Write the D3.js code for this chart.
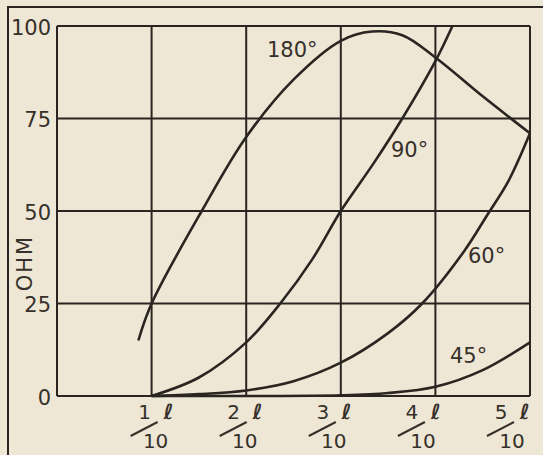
<!DOCTYPE html>
<html>
<head>
<meta charset="utf-8">
<script src="https://cdn.jsdelivr.net/npm/d3@7"></script>
<style>
  html, body { margin: 0; padding: 0; background: #eee7d5; }
  svg { display: block; }
</style>
</head>
<body>
<div class="chart"></div>
<script>
// Impedance (ohm) versus length (fraction of l), one curve per angle
var yTicks = [0, 25, 50, 75, 100];
var xTicks = [0.1, 0.2, 0.3, 0.4, 0.5];
var xTickNum = ["1", "2", "3", "4", "5"];

var curve180 = [[0.086, 15], [0.1, 25], [0.153, 50], [0.2, 70], [0.25, 85.5], [0.3, 96], [0.333, 98.5], [0.365, 97.5], [0.4, 91.5], [0.45, 81], [0.5, 71]];
var curve90 = [[0.1, 0], [0.15, 5], [0.2, 14.5], [0.236, 25], [0.27, 37], [0.3, 50], [0.335, 63], [0.365, 75], [0.4, 90.5], [0.418, 100]];
var curve60 = [[0.1, 0], [0.15, 0.5], [0.2, 1.5], [0.25, 4], [0.3, 9], [0.35, 17], [0.386, 25], [0.43, 39], [0.455, 49], [0.477, 58], [0.5, 71]];
var curve45 = [[0.1, 0], [0.2, 0], [0.3, 0.2], [0.35, 0.8], [0.4, 2.5], [0.45, 7], [0.5, 14.5]];

var curveNames = ["180°", "90°", "60°", "45°"];
var curveData = [curve180, curve90, curve60, curve45];

var width = 543, height = 455;
var ink = "#2b2521";
var svg = d3.select(".chart").append("svg").attr("width", width).attr("height", height)
	.style("font-family", "'DejaVu Sans', sans-serif");

svg.append("rect").attr("width", width).attr("height", height).attr("fill", "#eee7d5");

// outer frame (only top and left fall inside the picture)
svg.append("path").attr("d", "M8 " + height + " L8 7 L" + width + " 7")
	.attr("fill", "none").attr("stroke", ink).attr("stroke-width", 2);

var x = d3.scaleLinear().domain([0, 0.5]).range([57, 530]);
var y = d3.scaleLinear().domain([0, 100]).range([396, 26]);

// grid
var grid = svg.append("g").attr("class", "grid");
grid.selectAll("line.v").data(xTicks).enter().append("line")
	.attr("class", "v")
	.attr("x1", function(d){ return x(d) }).attr("x2", function(d){ return x(d) })
	.attr("y1", y(0)).attr("y2", y(100))
	.attr("stroke", ink).attr("stroke-width", 2);
grid.selectAll("line.h").data(yTicks).enter().append("line")
	.attr("class", "h")
	.attr("x1", x(0)).attr("x2", x(0.5))
	.attr("y1", function(d){ return y(d) }).attr("y2", function(d){ return y(d) })
	.attr("stroke", ink).attr("stroke-width", 2);
grid.append("line").attr("x1", x(0)).attr("x2", x(0)).attr("y1", y(0)).attr("y2", y(100))
	.attr("stroke", ink).attr("stroke-width", 2);

// y axis labels
var yAxis = svg.append("g").attr("transform", "translate(" + x(0) + ",0)")
	.call(d3.axisLeft(y).tickValues(yTicks).tickSize(0).tickPadding(6));
yAxis.select(".domain").remove();
yAxis.selectAll("text").attr("fill", "#36302b").style("font-size", "21px")
	.style("font-family", "'DejaVu Sans', sans-serif").attr("dy", "0.4em");

svg.append("text").text("OHM")
	.attr("transform", "translate(32,263) rotate(-90)")
	.attr("text-anchor", "middle").attr("fill", "#36302b")
	.style("font-size", "21px").style("letter-spacing", "2px");

// x fraction labels  n ℓ / 10
var fracX = d3.scaleLinear().domain([0.1, 0.5]).range([x(0.1) + 4, x(0.5) - 18]);
var frac = svg.selectAll("g.frac").data(xTicks).enter().append("g")
	.attr("class", "frac")
	.attr("transform", function(d){ return "translate(" + fracX(d) + ",0)" })
	.attr("fill", "#36302b");
frac.append("text").text(function(d, i){ return xTickNum[i] })
	.attr("x", -11).attr("y", 419).attr("text-anchor", "middle").style("font-size", "20px");
frac.append("text").text("ℓ")
	.attr("x", 13).attr("y", 419).attr("text-anchor", "middle")
	.style("font-size", "21px").style("font-weight", "bold");
frac.append("line").attr("x1", -25).attr("y1", 436).attr("x2", 2).attr("y2", 422)
	.attr("stroke", "#36302b").attr("stroke-width", 2);
frac.append("text").text("10")
	.attr("x", 0).attr("y", 448).attr("text-anchor", "middle").style("font-size", "20px");

// curves
var line = d3.line().x(function(d){ return x(d[0]) }).y(function(d){ return y(d[1]) })
	.curve(d3.curveCatmullRom.alpha(0.5));
svg.append("g").selectAll("path").data(curveData).enter().append("path")
	.attr("d", line).attr("fill", "none").attr("stroke", ink).attr("stroke-width", 2.6);

// curve labels
var labelPos = [[267, 57], [391, 157], [468, 263], [450, 363]];
svg.append("g").selectAll("text").data(curveNames).enter().append("text")
	.text(function(d){ return d })
	.attr("x", function(d, i){ return labelPos[i][0] })
	.attr("y", function(d, i){ return labelPos[i][1] })
	.attr("fill", "#36302b").style("font-size", "21px");
</script>
</body>
</html>
